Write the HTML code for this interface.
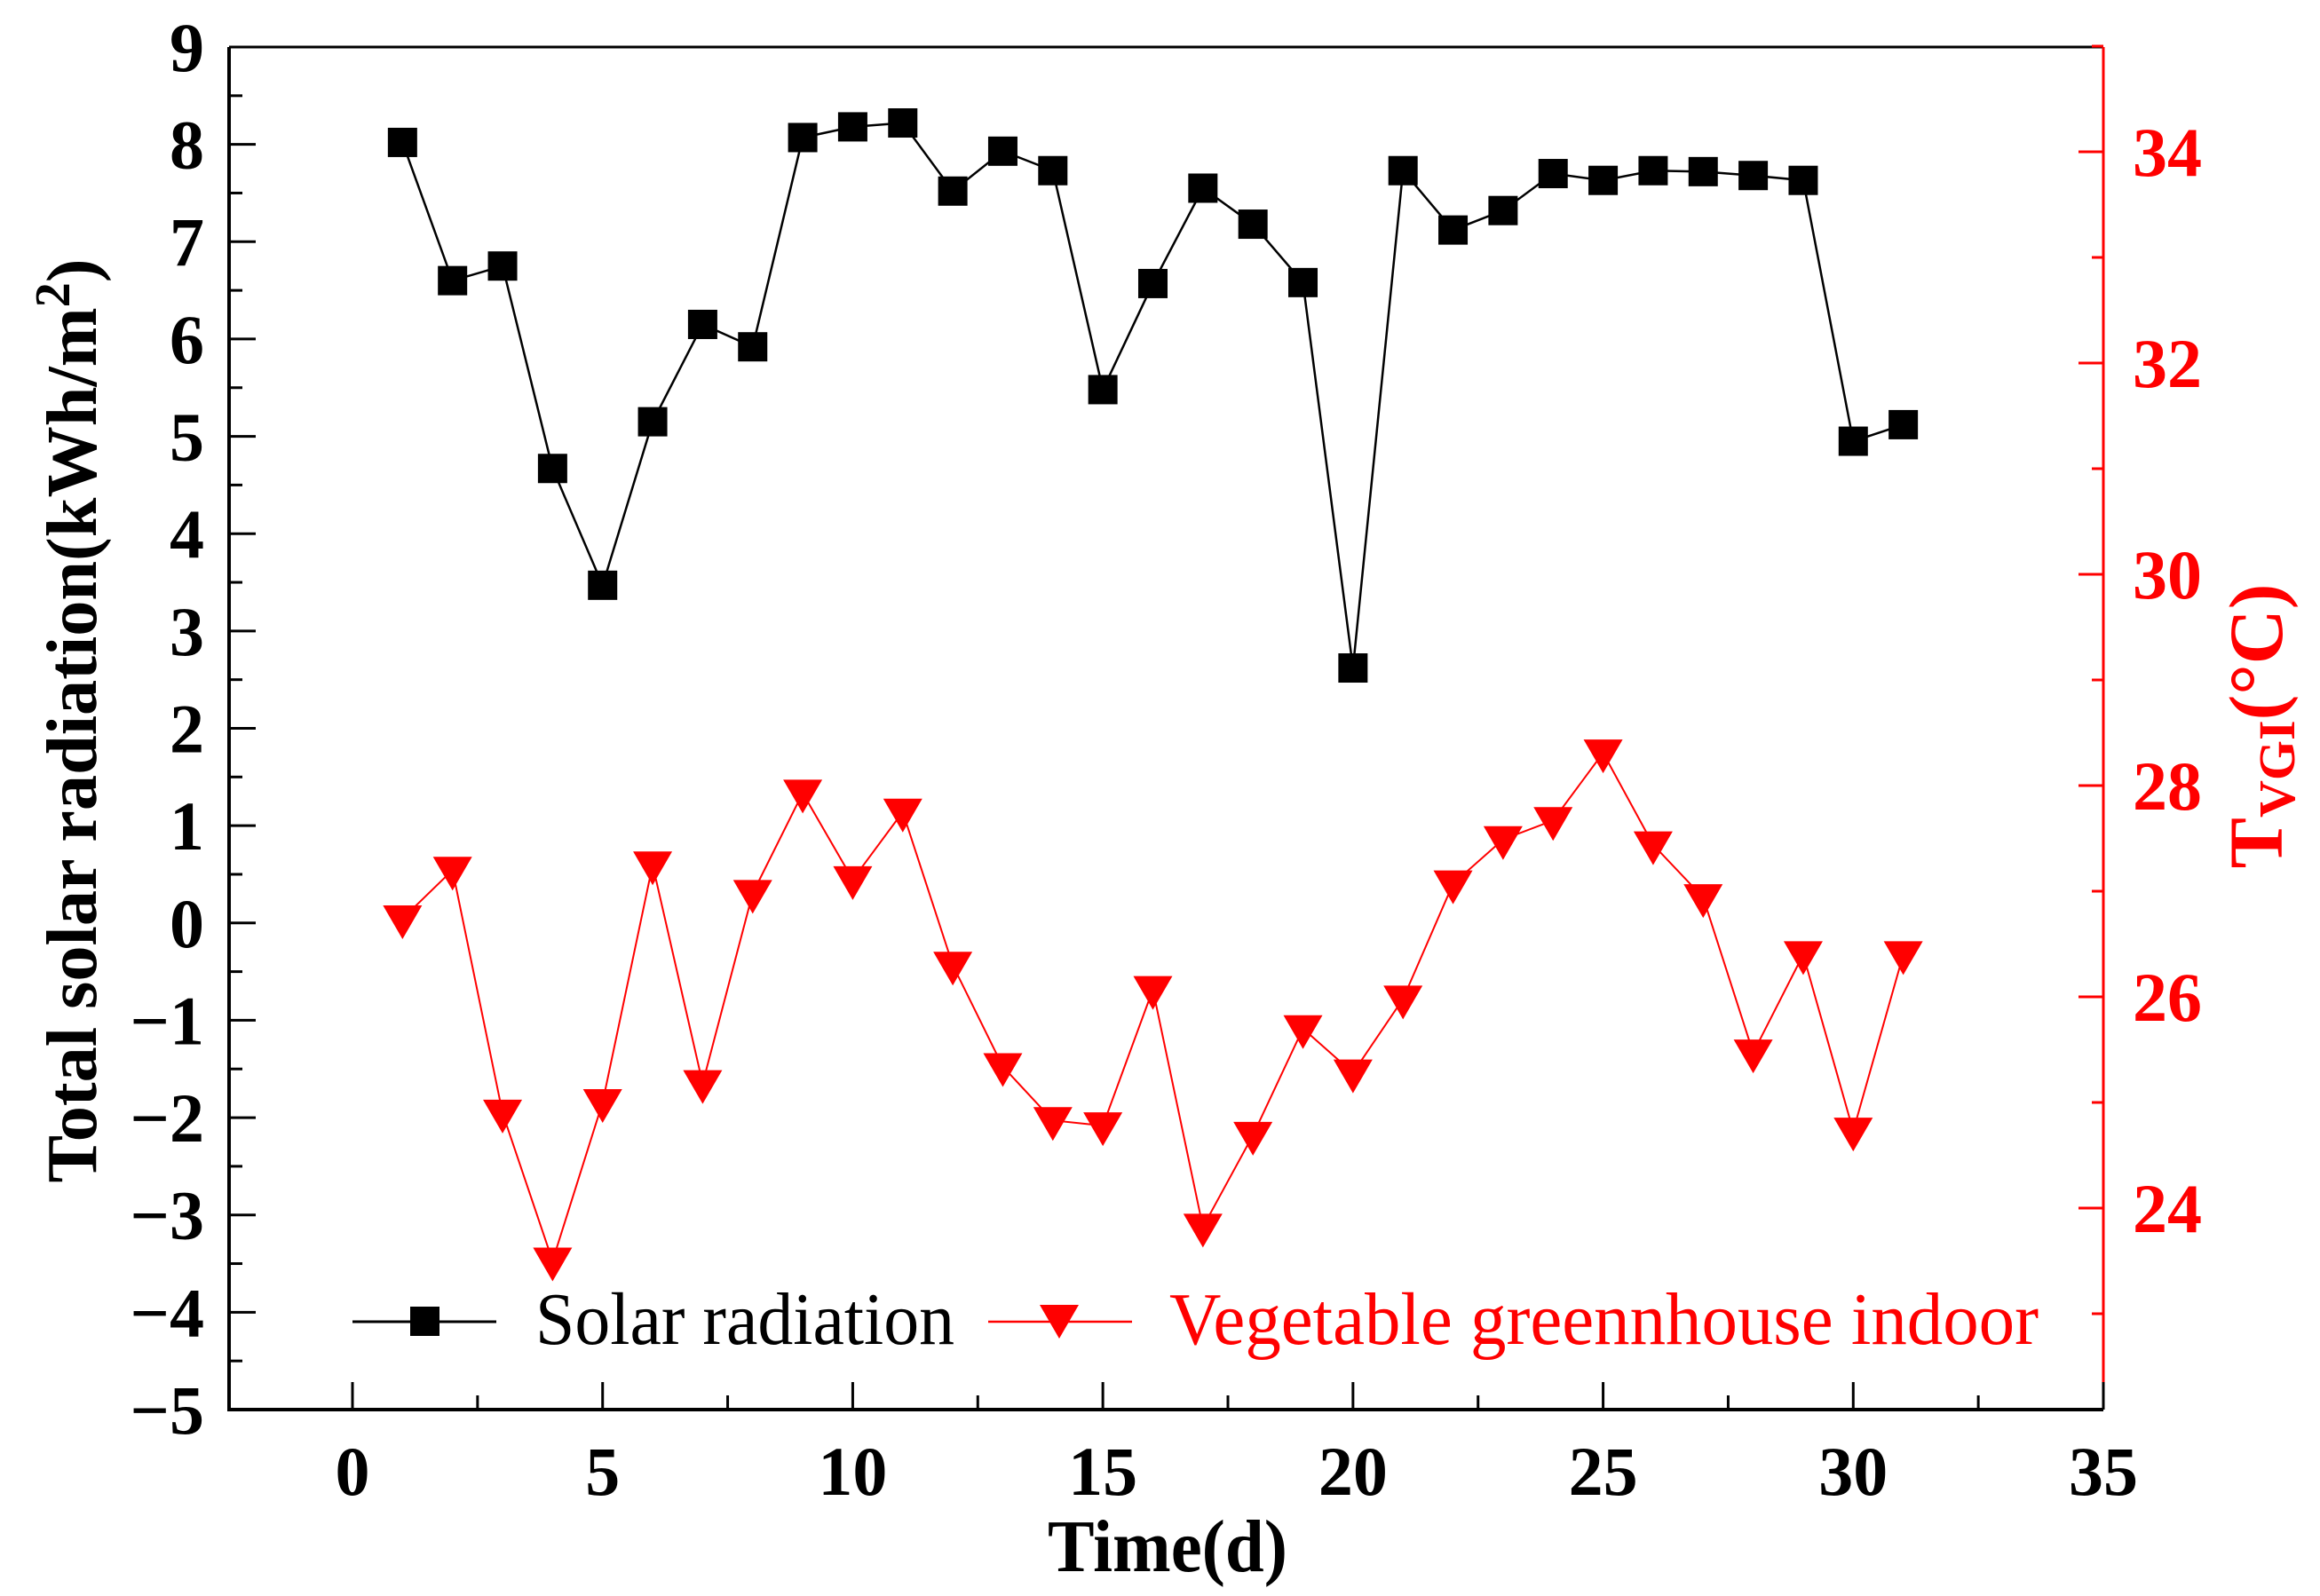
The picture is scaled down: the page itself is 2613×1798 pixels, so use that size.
<!DOCTYPE html>
<html><head><meta charset="utf-8"><style>
html,body{margin:0;padding:0;background:#fff;}
svg{display:block;}
text{font-family:"Liberation Serif",serif;}
</style></head><body>
<svg id="chart" width="2613" height="1798" viewBox="0 0 2613 1798" xmlns="http://www.w3.org/2000/svg">
<g id="grid-layer"></g>
<g id="series-layer"></g>
<g id="legend">
  <g>
    <line x1="397" y1="1489" x2="559" y2="1489" stroke="#000" stroke-width="3"/>
    <rect x="462" y="1472" width="33" height="33" fill="#000"/>
    <text x="603" y="1514" font-size="84" textLength="472" lengthAdjust="spacingAndGlyphs" fill="#000">Solar radiation</text>
  </g>
  <g>
    <line x1="1113" y1="1489" x2="1275" y2="1489" stroke="#ff0000" stroke-width="2.5"/>
    <polygon points="1171,1470 1215,1470 1193,1508" fill="#ff0000"/>
    <text x="1317" y="1514" font-size="84" textLength="979" lengthAdjust="spacingAndGlyphs" fill="#ff0000">Vegetable greennhouse indoor</text>
  </g>
</g>
<text x="1315" y="1770" font-size="84" font-weight="bold" text-anchor="middle" textLength="270" lengthAdjust="spacingAndGlyphs">Time(d)</text>
<text transform="translate(108,812) rotate(-90)" font-size="80" font-weight="bold" text-anchor="middle" textLength="1041" lengthAdjust="spacingAndGlyphs">Total solar radiation(kWh/m<tspan font-size="56" dy="-30">2</tspan><tspan dy="30">)</tspan></text>
<text transform="translate(2570,818) rotate(-90)" font-size="86" font-weight="bold" fill="#ff0000" text-anchor="middle">T<tspan font-size="58" dy="14">VGI</tspan><tspan dy="-14">(°C)</tspan></text>
</svg>
<script>
const days = [1,2,3,4,5,6,7,8,9,10,11,12,13,14,15,16,17,18,19,20,21,22,23,24,25,26,27,28,29,30,31];
const solarValues = [8.02,6.6,6.75,4.67,3.47,5.15,6.15,5.92,8.07,8.18,8.22,7.52,7.93,7.73,5.48,6.57,7.55,7.18,6.58,2.62,7.73,7.12,7.32,7.7,7.63,7.73,7.72,7.68,7.63,4.95,5.12];
const tempValues = [26.74,27.2,24.9,23.5,25.0,27.25,25.18,26.98,27.93,27.11,27.75,26.3,25.34,24.83,24.78,26.07,23.82,24.69,25.7,25.28,25.98,27.07,27.49,27.67,28.31,27.44,26.94,25.47,26.4,24.73,26.4];
const xTicks = [0,5,10,15,20,25,30,35];
const leftTicks = [9,8,7,6,5,4,3,2,1,0,-1,-2,-3,-4,-5];
const rightTicks = [34,32,30,28,26,24];

const PL=258, PR=2369, PT=53, PB=1588;
const X = d => 397 + d*(2369-397)/35;
const YL = v => PB - (v+5)*(PB-PT)/14;
const YR = t => 171 + (34-t)*119;

const NS='http://www.w3.org/2000/svg';
function mk(tag, attrs, parent){const e=document.createElementNS(NS,tag);for(const k in attrs)e.setAttribute(k,attrs[k]);parent.appendChild(e);return e;}
const ax=document.getElementById('grid-layer');
const se=document.getElementById('series-layer');

let a;
a=mk('line',{x1:PL,y1:PT,x2:PR,y2:PT,stroke:'#000','stroke-width':3},ax);


a=mk('line',{x1:PL,y1:PT,x2:PL,y2:PB+2,stroke:'#000','stroke-width':4},ax);


a=mk('line',{x1:PL-2,y1:PB,x2:PR,y2:PB,stroke:'#000','stroke-width':4},ax);


a=mk('line',{x1:PR,y1:PT,x2:PR,y2:PB,stroke:'#ff0000','stroke-width':3},ax);



xTicks.forEach(t=>{
  mk('line',{x1:X(t),y1:PB,x2:X(t),y2:PB-31,stroke:'#000','stroke-width':3},ax);
  if(t<35) mk('line',{x1:X(t+2.5),y1:PB,x2:X(t+2.5),y2:PB-16,stroke:'#000','stroke-width':3},ax);
  const l=mk('text',{x:X(t),y:1684,'font-size':78,'font-weight':'bold','text-anchor':'middle'},ax);
  l.textContent=t;
  
  
});
leftTicks.forEach(t=>{
  mk('line',{x1:PL,y1:YL(t),x2:PL+30,y2:YL(t),stroke:'#000','stroke-width':3},ax);
  if(t>-5) mk('line',{x1:PL,y1:YL(t-0.5),x2:PL+15,y2:YL(t-0.5),stroke:'#000','stroke-width':3},ax);
  const l=mk('text',{x:230,y:YL(t)+27,'font-size':78,'font-weight':'bold','text-anchor':'end'},ax);
  l.textContent=t<0?'\u2212'+(-t):t;
  
  
});
rightTicks.forEach(t=>{
  mk('line',{x1:PR,y1:YR(t),x2:PR-28,y2:YR(t),stroke:'#ff0000','stroke-width':3},ax);
  mk('line',{x1:PR,y1:YR(t+1),x2:PR-13,y2:YR(t+1),stroke:'#ff0000','stroke-width':3},ax);
  if(t===24) mk('line',{x1:PR,y1:YR(23),x2:PR-13,y2:YR(23),stroke:'#ff0000','stroke-width':3},ax);
  const l=mk('text',{x:2402,y:YR(t)+27,'font-size':78,'font-weight':'bold',fill:'#ff0000'},ax);
  l.textContent=t;
  
  
});

const sp=mk('polyline',{points:days.map((d,i)=>X(d)+','+YL(solarValues[i])).join(' '),fill:'none',stroke:'#000','stroke-width':2.5},se);


days.forEach((d,i)=>{
  const r=mk('rect',{x:X(d)-16.5,y:YL(solarValues[i])-16.5,width:33,height:33,fill:'#000'},se);
  
  
});
const tp=mk('polyline',{points:days.map((d,i)=>X(d)+','+YR(tempValues[i])).join(' '),fill:'none',stroke:'#ff0000','stroke-width':2},se);


days.forEach((d,i)=>{
  const x=X(d), y=YR(tempValues[i]);
  const p=mk('polygon',{points:(x-22)+','+(y-15)+' '+(x+22)+','+(y-15)+' '+x+','+(y+23),fill:'#ff0000'},se);
  
  
});
</script>
</body></html>
